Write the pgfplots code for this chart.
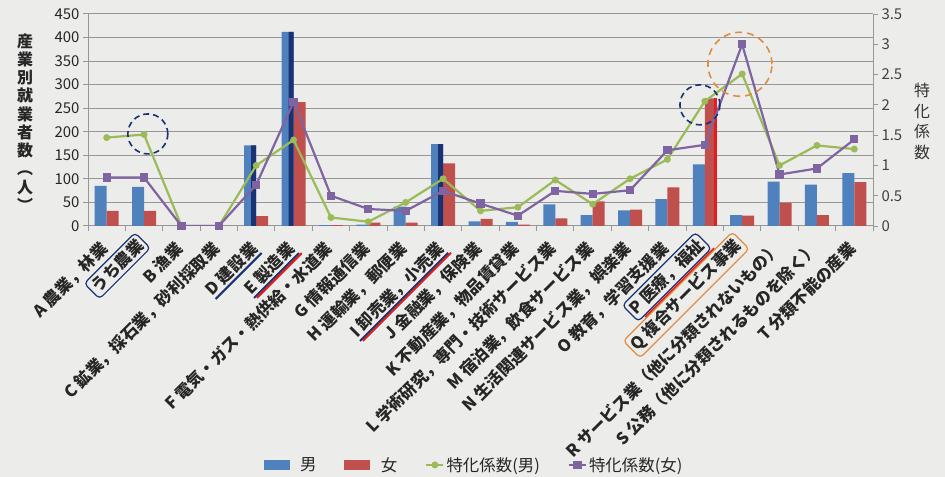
\documentclass[border=0pt]{standalone}
\usepackage{pgfplots}
\usepackage{pgfplotstable}
\pgfplotsset{compat=1.18}
\usepackage{fontspec}
\setmainfont{Noto Sans CJK JP}

\definecolor{cM}{RGB}{79,129,189}
\definecolor{cF}{RGB}{192,80,77}
\definecolor{cG}{RGB}{155,187,89}
\definecolor{cP}{RGB}{128,100,162}
\definecolor{navy}{RGB}{25,50,115}
\definecolor{hired}{RGB}{228,30,30}
\definecolor{org}{RGB}{226,140,64}
\definecolor{paper}{RGB}{236,236,234}
\definecolor{gridc}{RGB}{150,150,150}

% x: category index, m/f: workers (persons), gm/gf: specialisation coefficient
\pgfplotstableread{
x m f gm gf
0 85 32 1.46 0.80
1 83 32 1.51 0.80
2 0 0 0 0
3 0 0 0 0
4 171 21 1.00 0.68
5 412 263 1.42 2.05
6 2 2 0.14 0.50
7 3 7 0.07 0.28
8 41 7 0.39 0.25
9 174 133 0.78 0.58
10 10 15 0.25 0.37
11 9 3 0.31 0.17
12 46 16 0.76 0.58
13 23 52 0.36 0.53
14 33 35 0.78 0.59
15 57 82 1.10 1.25
16 131 271 2.06 1.34
17 23 22 2.51 3.00
18 94 49 1.00 0.85
19 88 23 1.33 0.95
20 112 93 1.27 1.43
}\data

% hand-marked bars
\pgfplotstableread{
x v
4 171
5 412
9 174
}\hlm
\pgfplotstableread{
x v
16 271
}\hlf

% underlines drawn by hand under some labels
\newsavebox\ulbox
\newcommand{\ulb}[1]{\sbox\ulbox{#1}\smash{\rlap{\color{navy}\vrule height -3bp depth 5bp width \wd\ulbox}}\usebox\ulbox}
\newcommand{\ulbr}[1]{\sbox\ulbox{#1}\smash{\rlap{\color{navy}\vrule height -3bp depth 5bp width \wd\ulbox}}%
  \smash{\rlap{\kern2bp\color{hired}\vrule height -5bp depth 7bp width \wd\ulbox}}\usebox\ulbox}
\newcommand{\ulr}[1]{\sbox\ulbox{#1}\smash{\rlap{\kern5bp\color{hired}\vrule height -6.5bp depth 8.5bp width \wd\ulbox}}\usebox\ulbox}

\pgfplotsset{
  samebox/.style={at={(88bp,251bp)}, anchor=south west, scale only axis,
    width=785bp, height=212bp, xmin=-0.5, xmax=20.5},
  lbl/.style={xticklabel style={yshift=-14bp, xshift=-1bp, rotate=45, anchor=east,
    inner sep=1bp, font=\fontsize{16.5}{19}\selectfont\bfseries, text=black!85}},
  lblonly/.style={samebox, ymin=0, ymax=1, axis x line*=bottom,
    x axis line style={draw=none}, axis y line=none, xtick style={draw=none}, lbl},
}

\begin{document}
\begin{tikzpicture}
\path[use as bounding box] (0,0) rectangle (945bp,477bp);
\fill[paper] (0,0) rectangle (945bp,477bp);

\begin{axis}[
  samebox, ymin=0, ymax=450,
  axis x line*=bottom, axis y line*=left,
  axis line style={gridc, line width=1bp},
  xtick={-0.5,0.5,...,20.5}, xticklabels={},
  ytick={0,50,...,450},
  tick align=outside, major tick length=5bp,
  tick style={gridc, line width=1bp},
  ymajorgrids, grid style={gridc, line width=1bp},
  yticklabel style={font=\fontsize{15}{18}\selectfont, text=black!85},
  /pgf/number format/assume math mode=true,
]
\addplot[ybar, bar width=12bp, bar shift=-6bp, fill=cM, draw=none] table[x=x,y=m]{\data};
\addplot[ybar, bar width=12bp, bar shift=6bp, fill=cF, draw=none] table[x=x,y=f]{\data};
\addplot[ybar, bar width=5bp, bar shift=-2.5bp, fill=navy, draw=none] table[x=x,y=v]{\hlm};
\addplot[ybar, bar width=3bp, bar shift=10.5bp, fill=hired, draw=none] table[x=x,y=v]{\hlf};
\end{axis}

\begin{axis}[
  samebox, ymin=0, ymax=3.5,
  axis x line*=bottom, axis y line*=right,
  x axis line style={draw=none},
  y axis line style={gridc, line width=1bp},
  xtick={0,...,20}, xtick style={draw=none},
  xticklabels={
    {A 農業，林業},
    {},
    {B 漁業},
    {C 鉱業，採石業，砂利採取業},
    {\ulb{D 建設業}},
    {\ulbr{E 製造業}},
    {F 電気・ガス・熱供給・水道業},
    {G 情報通信業},
    {H 運輸業，郵便業},
    {\ulbr{I 卸売業，小売業}},
    {J 金融業，保険業},
    {K 不動産業，物品賃貸業},
    {L 学術研究，専門・技術サービス業},
    {M 宿泊業，飲食サービス業},
    {N 生活関連サービス業，娯楽業},
    {O 教育，学習支援業},
    {},
    {},
    {R サービス業（他に分類されないもの）},
    {S 公務（他に分類されるものを除く）},
    {T 分類不能の産業}},
  lbl,
  ytick={0,0.5,...,3.5},
  tick align=outside, major tick length=5bp,
  ytick style={gridc, line width=1bp},
  yticklabel style={font=\fontsize{15}{18}\selectfont, text=black!75},
  /pgf/number format/assume math mode=true,
  legend columns=4,
  legend style={draw=none, fill=none, at={(0.4917,-1.127)}, anchor=center,
    font=\fontsize{16.5}{19}\selectfont, text=black!85,
    /tikz/every even column/.append style={column sep=26bp}},
]
\addlegendimage{legend image code/.code={\fill[cM] (0bp,-4.5bp) rectangle (25bp,4.5bp); \path (34bp,0bp);}}
\addlegendentry{男}
\addlegendimage{legend image code/.code={\fill[cF] (0bp,-4.5bp) rectangle (25bp,4.5bp); \path (34bp,0bp);}}
\addlegendentry{女}
\addplot[cG, line width=2.2bp, mark=*, mark size=2.3bp] table[x=x,y=gm]{\data};
\addlegendentry{特化係数(男)}
\addplot[cP, line width=2.2bp, mark=square*, mark size=3bp] table[x=x,y=gf]{\data};
\addlegendentry{特化係数(女)}
\draw[navy, line width=1.6bp, dash pattern=on 6bp off 4bp] (axis cs:1.1,1.52) circle[radius=20bp];
\draw[navy, line width=1.6bp, dash pattern=on 6bp off 4bp] (axis cs:15.87,2.0) circle[radius=20bp];
\draw[org, line width=1.6bp, dash pattern=on 7bp off 5bp] (axis cs:16.94,2.67) circle[radius=32bp];
\end{axis}

% labels circled by hand
\begin{axis}[lblonly, xtick={1,16},
  xticklabels={{うち農業},{\ulr{P 医療，福祉}}},
  xticklabel style={draw=navy, rounded corners=4bp, line width=1.2bp, inner sep=3bp}]
\end{axis}
\begin{axis}[lblonly, xtick={17},
  xticklabels={{Q 複合サービス事業}},
  xticklabel style={draw=org, rounded corners=4bp, line width=1.2bp, inner sep=3bp}]
\end{axis}

\node[align=center, inner sep=0pt, text=black!85,
  font=\fontsize{16}{18.3}\selectfont\bfseries] at (25bp,354.5bp)
  {産\\業\\別\\就\\業\\者\\数\\︵\\人\\︶};
\node[align=center, inner sep=0pt, text=black!80,
  font=\fontsize{16}{21}\selectfont] at (922bp,355.5bp)
  {特\\化\\係\\数};
\end{tikzpicture}
\end{document}
